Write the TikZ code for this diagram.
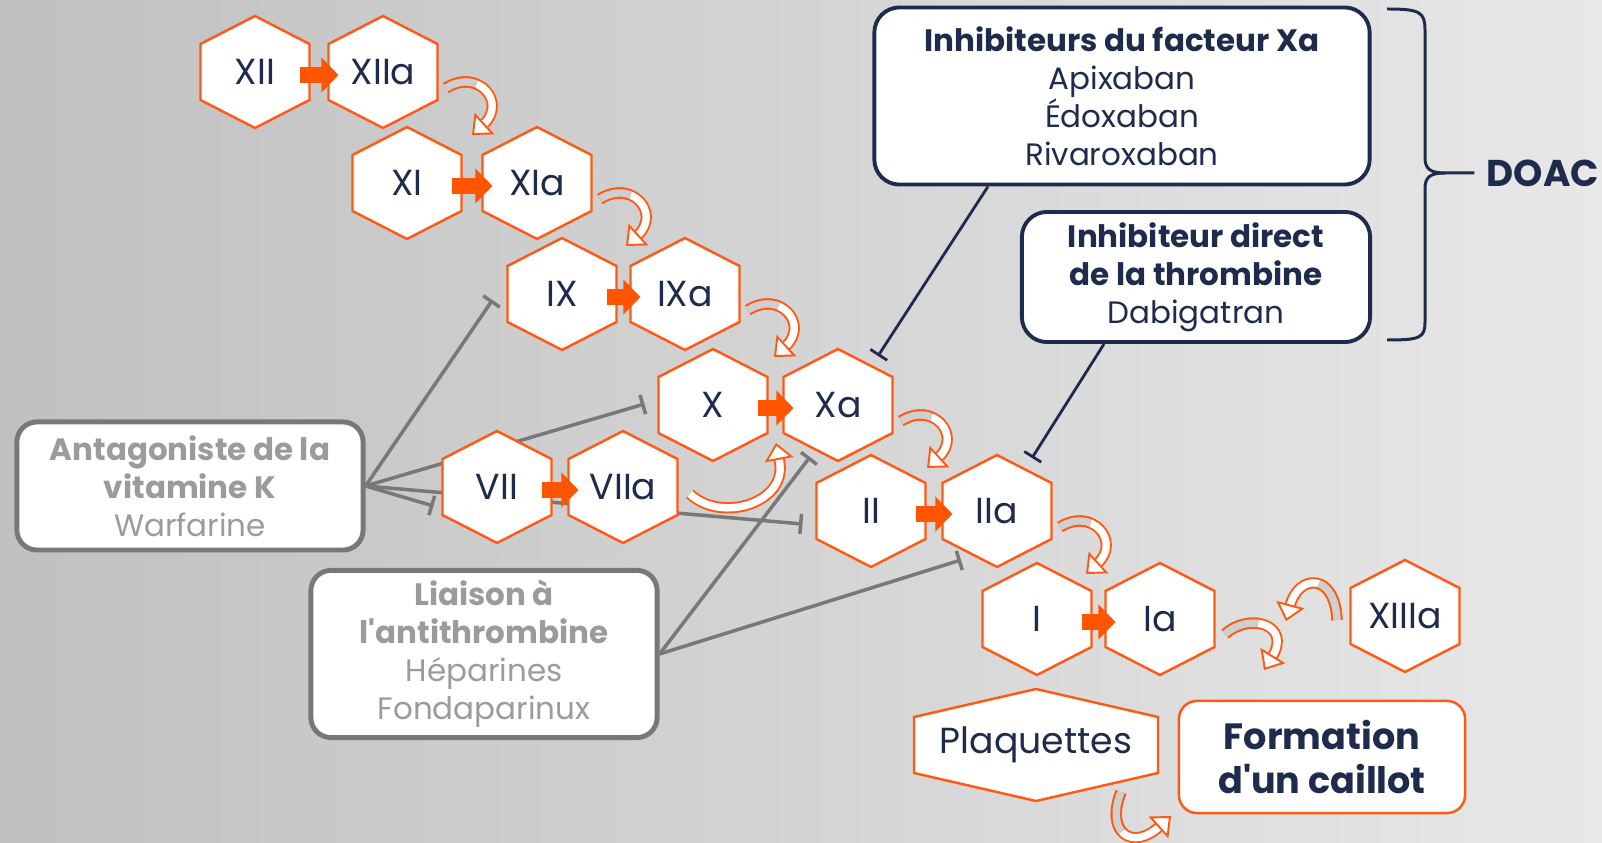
\documentclass[tikz,border=0pt]{standalone}
\usepackage{fontspec}
\setmainfont{Poppins}[Ligatures=TeXOff]
\usetikzlibrary{arrows.meta}
\definecolor{org}{HTML}{FF5A14}
\definecolor{orgfill}{HTML}{FF5500}
\definecolor{navy}{HTML}{1F2B4D}
\definecolor{grayln}{HTML}{787878}
\definecolor{graytx}{HTML}{9B9B9B}
\definecolor{tailgray}{HTML}{CFCFCF}
\definecolor{bgL}{HTML}{C0C0C0}
\definecolor{bgR}{HTML}{E8E8E8}
\pgfdeclarelayer{bg}
\pgfsetlayers{bg,main}

\begin{document}
\begin{tikzpicture}[x=0.01cm, y=-0.01cm,
    hx/.style={minimum width=1.09cm, minimum height=1.12cm, inner sep=0pt, outer sep=0pt,
      text=navy, font=\fontsize{10.3}{12}\selectfont},
    hexline/.style={draw=org, line width=0.7pt, fill=white},
    blk/.style={orgfill, line width=4.5pt, -{Triangle[length=0.17cm, width=0.34cm]}},
    cur/.style={draw=org, line width=0.55pt, double=white, double distance=2.1pt},
    curg/.style={cur, double=tailgray},
    curtip/.style={draw=org, line width=0.55pt, -{Triangle[length=0.17cm, width=0.29cm, fill=white]}},
    inh/.style={draw=grayln, line width=1pt, -{Bar[width=0.2cm]}},
    dinh/.style={draw=navy, line width=0.8pt, -{Bar[width=0.2cm]}},
    navybox/.style={draw=navy, line width=1.1pt, rounded corners=0.25cm, fill=white, text=navy,
      align=center, inner sep=0pt, font=\fontsize{8.8}{10.8}\selectfont},
    graybox/.style={draw=grayln, line width=1.4pt, rounded corners=0.2cm, fill=white, text=graytx,
      align=center, inner sep=0pt, font=\fontsize{8.8}{10.8}\selectfont},
    orgbox/.style={draw=org, line width=0.7pt, rounded corners=0.18cm, fill=white, text=navy,
      align=center, inner sep=0pt, font=\bfseries\fontsize{10.4}{12.5}\selectfont}
  ]
  \useasboundingbox (0,0) rectangle (1602,843);
  \begin{pgfonlayer}{bg}
    \shade[left color=bgL, right color=bgR] (0,0) rectangle (1602,843);
  \end{pgfonlayer}

  % cascade
  \foreach \n/\x/\y in {XII/255/72, XIIa/383/72, XI/407/183, XIa/537/183, IX/562/294, IXa/685/294,
      X/713/405, Xa/838/405, VII/497/487, VIIa/623/487, II/871/511, IIa/997/511,
      I/1037/619, Ia/1160/619, XIIIa/1405/616} {
    \draw[hexline] (\x,\y) ++(0,-56) -- ++(54.5,28) -- ++(0,56) -- ++(-54.5,28)
      -- ++(-54.5,-28) -- ++(0,-56) -- cycle;
    \node[hx] (\n) at (\x,\y) {\n};
  }
  \draw[hexline] (1036,745) ++(0,-56) -- ++(122,28) -- ++(0,56) -- ++(-122,28)
    -- ++(-122,-28) -- ++(0,-56) -- cycle;
  \node[hx] (plaq) at (1036,745) {Plaquettes};

  \foreach \a/\b in {XII/XIIa, XI/XIa, IX/IXa, X/Xa, VII/VIIa, II/IIa, I/Ia}
    \draw[blk] ([shift={(-10,3)}]\a.east) -- ([shift={(10,3)}]\b.west);

  \foreach \s in {XIIa, XIa, IXa, Xa, IIa} {
    \draw[cur] ([shift={(63,16)}]\s.center) .. controls ([shift={(95,-4)}]\s.center)
      and ([shift={(124,30)}]\s.center) .. ([shift={(101,52)}]\s.center);
    \draw[curg] ([shift={(63,16)}]\s.center) .. controls ([shift={(74.2,9)}]\s.center)
      and ([shift={(85,8.6)}]\s.center) .. ([shift={(93.4,12)}]\s.center);
    \draw[curtip] ([shift={(101,52)}]\s.center) -- ([shift={(89,63)}]\s.center);
  }
  \draw[cur] ([shift={(67,7)}]VIIa.center) .. controls ([shift={(99,37)}]VIIa.center)
    and ([shift={(167,15)}]VIIa.center) .. ([shift={(156,-28)}]VIIa.center);
  \draw[curtip] ([shift={(156,-28)}]VIIa.center) -- ([shift={(153,-44)}]VIIa.center);
  \draw[cur] ([shift={(65,15)}]Ia.center) .. controls ([shift={(90,-7)}]Ia.center)
    and ([shift={(132,6)}]Ia.center) .. ([shift={(112,38)}]Ia.center);
  \draw[curg] ([shift={(65,15)}]Ia.center) .. controls ([shift={(75,6.2)}]Ia.center)
    and ([shift={(87.7,3)}]Ia.center) .. ([shift={(98.1,4.4)}]Ia.center);
  \draw[curtip] ([shift={(112,38)}]Ia.center) -- ([shift={(104,51)}]Ia.center);
  \draw[cur] ([shift={(-68,4)}]XIIIa.center) .. controls ([shift={(-70,-44)}]XIIIa.center)
    and ([shift={(-107,-42)}]XIIIa.center) .. ([shift={(-115,-10)}]XIIIa.center);
  \draw[curg] ([shift={(-68,4)}]XIIIa.center) .. controls ([shift={(-68.9,-17.6)}]XIIIa.center)
    and ([shift={(-76.9,-29.1)}]XIIIa.center) .. ([shift={(-86.1,-32.3)}]XIIIa.center);
  \draw[curtip] ([shift={(-115,-10)}]XIIIa.center) -- ([shift={(-119,5)}]XIIIa.center);

  % drugs
  \node[navybox, minimum width=4.95cm, minimum height=1.77cm] (inhxa) at (1122,96)
    {\textbf{Inhibiteurs du facteur Xa}\\Apixaban\\Édoxaban\\Rivaroxaban};
  \node[navybox, minimum width=3.48cm, minimum height=1.30cm] (inhii) at (1196,277)
    {\textbf{Inhibiteur direct}\\\textbf{de la thrombine}\\Dabigatran};
  \node[graybox, minimum width=3.46cm, minimum height=1.28cm] (avk) at (190,486)
    {\textbf{Antagoniste de la}\\\textbf{vitamine K}\\Warfarine};
  \node[graybox, minimum width=3.46cm, minimum height=1.67cm] (at) at (484,654)
    {\textbf{Liaison à}\\\textbf{l'antithrombine}\\Héparines\\Fondaparinux};
  \node[orgbox, minimum width=2.86cm, minimum height=1.12cm] (caillot) at (1322,757)
    {Formation\\d'un caillot};
  \node[text=navy, font=\bfseries\fontsize{10.6}{12}\selectfont] (doac) at (1543,173) {DOAC};

  \draw[cur] ([shift={(85,47)}]plaq.center) .. controls ([shift={(69,87)}]plaq.center)
    and ([shift={(96,107)}]plaq.center) .. ([shift={(124,81)}]plaq.center);
  \draw[curg] ([shift={(85,47)}]plaq.center) .. controls ([shift={(77.8,65)}]plaq.center)
    and ([shift={(79.3,79)}]plaq.center) .. ([shift={(85.7,86.5)}]plaq.center);
  \draw[curtip] ([shift={(124,81)}]plaq.center) -- ([shift={(135,71)}]plaq.center);

  \draw[navy, line width=0.85pt] (1387,9) .. controls (1420,9) and (1425,12) .. (1425,30)
    -- (1425,158) .. controls (1425,170) and (1432,173) .. (1445,173) -- (doac.west);
  \draw[navy, line width=0.85pt] (1445,173) .. controls (1432,173) and (1425,176) .. (1425,188)
    -- (1425,322) .. controls (1425,338) and (1420,340) .. (1387,340);

  \draw[dinh] ([shift={(-134,0)}]inhxa.south) -- ([shift={(40,-49)}]Xa.center);
  \draw[dinh] ([shift={(-92,0)}]inhii.south) -- ([shift={(35,-53)}]IIa.center);

  \begin{pgfonlayer}{bg}
    \draw[inh] (avk.east) -- ([shift={(-15,6)}]IX.west);
    \draw[inh] (avk.east) -- ([shift={(-14,-1)}]X.west);
    \draw[inh] (avk.east) -- ([shift={(-9,19)}]VII.west);
    \draw[inh] (avk.east) -- ([shift={(-14,13)}]II.west);
    \draw[inh] (at.east) -- ([shift={(-28,52)}]Xa.center);
    \draw[inh] (at.east) -- ([shift={(-36,49)}]IIa.center);
  \end{pgfonlayer}
\end{tikzpicture}
\end{document}
